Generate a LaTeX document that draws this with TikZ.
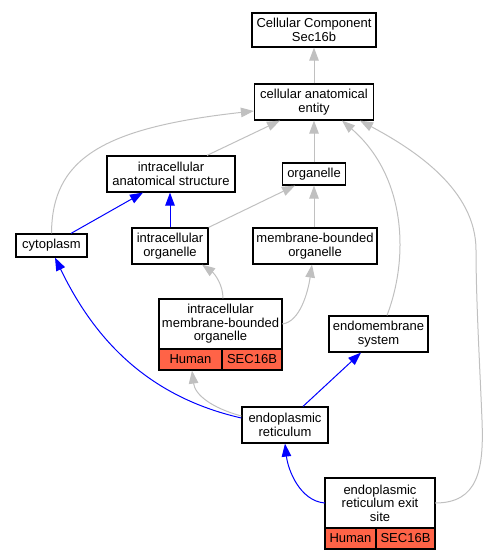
\documentclass[tikz,border=0pt]{standalone}
\usepackage{fontspec}
\setmainfont{Liberation Sans}
\usetikzlibrary{arrows.meta}
\definecolor{edgegray}{RGB}{192,192,192}
\definecolor{tomatofill}{RGB}{255,99,71}
\tikzset{
  box/.style={draw=black, line width=1.2pt, fill=white, inner sep=0pt, align=center,
    font=\fontsize{13}{13.6}\selectfont},
  cell/.style={box, fill=tomatofill},
  plain/.style={inner sep=0pt, align=center, font=\fontsize{13}{13.6}\selectfont},
  gedge/.style={draw=edgegray, line width=1pt, -{Triangle[length=13pt,width=9.5pt]}, color=edgegray},
  bedge/.style={draw=blue, line width=1pt, -{Triangle[length=13pt,width=9.5pt]}, color=blue},
}
\begin{document}
\begin{tikzpicture}[x=1pt,y=-1pt]
\useasboundingbox (0,0) rectangle (490,560);
% nodes
\node[box, minimum width=124pt, minimum height=34pt] (n1) at (314,30) {Cellular Component\\Sec16b};
\node[box, minimum width=119pt, minimum height=36pt] (n2) at (314,102) {cellular anatomical\\entity};
\node[box, minimum width=128pt, minimum height=36pt] (n3) at (171,174) {intracellular\\anatomical structure};
\node[box, minimum width=63pt, minimum height=22pt] (n4) at (314,174) {organelle};
\node[box, minimum width=71pt, minimum height=23pt] (n5) at (51.5,245.5) {cytoplasm};
\node[box, minimum width=76pt, minimum height=36pt] (n6) at (170,246) {intracellular\\organelle};
\node[box, minimum width=124pt, minimum height=36pt] (n7) at (315,246) {membrane-bounded\\organelle};
% record node 8
\node[box, minimum width=123pt, minimum height=71pt] (n8) at (220.5,334.5) {};
\node[plain, minimum width=123pt, minimum height=50pt] (n8t) at (220.5,324) {intracellular\\membrane-bounded\\organelle};
\node[cell, minimum width=63pt, minimum height=21pt] (n8h) at (190.5,359.5) {Human};
\node[cell, minimum width=60pt, minimum height=21pt] (n8s) at (252,359.5) {SEC16B};
\node[box, minimum width=99pt, minimum height=36pt] (n9) at (378.5,334) {endomembrane\\system};
\node[box, minimum width=86pt, minimum height=36pt] (n10) at (285,425) {endoplasmic\\reticulum};
% record node 11
\node[box, minimum width=110pt, minimum height=71pt] (n11) at (380,513.5) {};
\node[plain, minimum width=110pt, minimum height=50pt] (n11t) at (380,503) {endoplasmic\\reticulum exit\\site};
\node[cell, minimum width=51pt, minimum height=21pt] (n11h) at (350.5,538.5) {Human};
\node[cell, minimum width=59pt, minimum height=21pt] (n11s) at (405.5,538.5) {SEC16B};
% gray edges
\draw[gedge] (n2.north) -- (n1.south);
\draw[gedge] ([xshift=36pt]n3.north) -- ([xshift=-34pt]n2.south);
\draw[gedge] (n4.north) -- (n2.south);
\draw[gedge] (n5.north) .. controls (52,160) and (100,128) .. ([yshift=-9pt]n2.west);
\draw[gedge] ([xshift=8.5pt]n9.north) .. controls (410,255) and (405,175) .. ([xshift=28pt]n2.south);
\draw[gedge] (n11t.east) .. controls (478,503) and (484,470) .. (482,420)
   .. controls (480,370) and (476,300) .. (476,250)
   .. controls (476,190) and (415,150) .. ([xshift=46pt]n2.south);
\draw[gedge] (n6.north east) -- ([xshift=-19pt]n4.south);
\draw[gedge] (n7.north -| n4.south) -- (n4.south);
\draw[gedge] ([xshift=2.5pt]n8.north) .. controls (223,285) and (215,274) .. ([xshift=32pt]n6.south);
\draw[gedge] (n8t.east) .. controls (300,322) and (308,292) .. ([xshift=-3pt]n7.south);
\draw[gedge] ([yshift=9pt]n10.west) .. controls (212,408) and (195,395) .. ([xshift=-28.5pt]n8.south);
% blue edges
\draw[bedge] ([xshift=19.5pt]n5.north) -- ([xshift=-28pt]n3.south);
\draw[bedge] (n6.north) -- (n6.north |- n3.south);
\draw[bedge] ([yshift=7pt]n10.west) .. controls (140,395) and (90,330) .. ([xshift=3.5pt]n5.south);
\draw[bedge] ([xshift=18pt]n10.north) -- ([xshift=-17.5pt]n9.south);
\draw[bedge] (n11t.west) .. controls (300,501) and (288,470) .. (n10.south);
\end{tikzpicture}
\end{document}
